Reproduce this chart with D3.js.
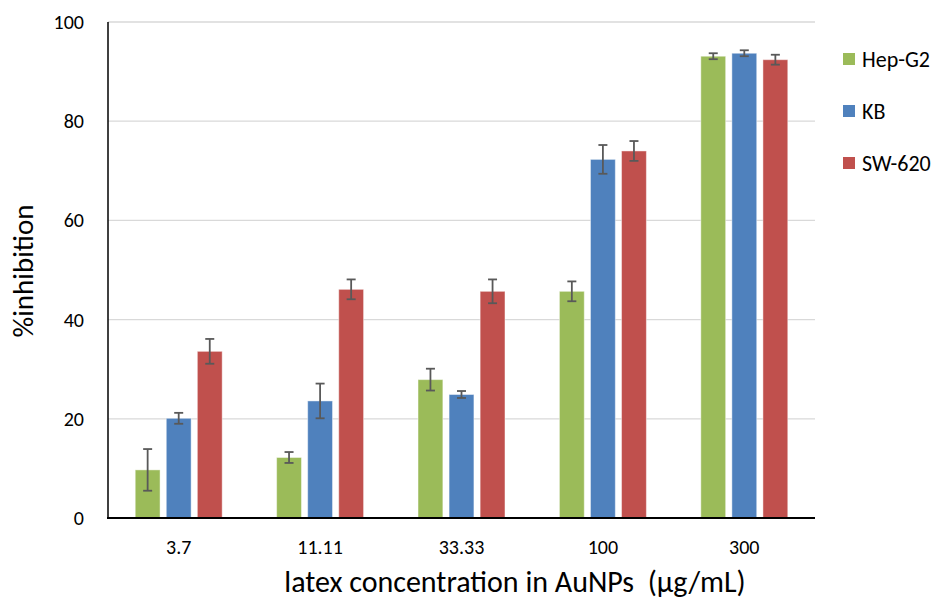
<!DOCTYPE html>
<html>
<head>
<meta charset="utf-8">
<script src="https://cdn.jsdelivr.net/npm/d3@7"></script>
<style>
  body { margin: 0; background: #fff; }
  text { font-family: Carlito, Lato, "Open Sans", sans-serif; fill: #000; }
</style>
</head>
<body>
<svg id="chart" width="939" height="600"></svg>
<script>
// concentrations (x categories)
var concentrations = ["3.7", "11.11", "33.33", "100", "300"];
var cellLines = ["Hep-G2", "KB", "SW-620"];
var colors = ["#9BBB59", "#4F81BD", "#C0504D"];

// mean %inhibition per cell line, one value per concentration
var hepG2 = [9.7, 12.2, 27.9, 45.7, 93.1];
var kb    = [20.1, 23.6, 24.9, 72.3, 93.7];
var sw620 = [33.6, 46.1, 45.7, 74.0, 92.4];

// error bar half-widths
var hepG2Err = [4.2, 1.1, 2.2, 2.0, 0.6];
var kbErr    = [1.1, 3.5, 0.7, 2.9, 0.6];
var sw620Err = [2.5, 2.0, 2.4, 2.0, 1.0];

var yTicks = [0, 20, 40, 60, 80, 100];

var means = [hepG2, kb, sw620], errs = [hepG2Err, kbErr, sw620Err];

var svg = d3.select("#chart");
var plotL = 108, plotR = 815, plotT = 22, plotB = 518;

var x0 = d3.scaleBand().domain(concentrations).range([plotL, plotR]).paddingInner(0.385).paddingOuter(0.1925);
var x1 = d3.scaleBand().domain(cellLines).range([0, x0.bandwidth()]).paddingInner(0.2);
var y = d3.scaleLinear().domain([0, 100]).range([plotB, plotT]);

// gridlines
svg.append("g").selectAll("line")
  .data(yTicks.filter(function(d){ return d > 0; }))
  .enter().append("line")
  .attr("x1", plotL).attr("x2", plotR)
  .attr("y1", y).attr("y2", y)
  .attr("stroke", "#d9d9d9").attr("stroke-width", 1.3);

// y tick labels
svg.append("g").selectAll("text")
  .data(yTicks)
  .enter().append("text")
  .attr("x", 84).attr("y", y).attr("dy", "0.35em")
  .attr("text-anchor", "end")
  .style("font-size", "20px")
  .text(function(d){ return d; });

// bars
var groups = svg.append("g").selectAll("g")
  .data(concentrations)
  .enter().append("g")
  .attr("transform", function(d){ return "translate(" + x0(d) + ",0)"; });

groups.each(function(c, ci) {
  var g = d3.select(this);
  cellLines.forEach(function(s, si) {
    var v = means[si][ci], e = errs[si][ci];
    var bx = x1(s), bw = x1.bandwidth(), cx = bx + bw / 2;
    g.append("rect")
      .attr("x", bx).attr("y", y(v))
      .attr("width", bw).attr("height", y(0) - y(v))
      .attr("fill", colors[si])
      .attr("stroke", "rgba(255,255,255,0.45)").attr("stroke-width", 1);
    var eb = g.append("g").attr("stroke", "#595959").attr("stroke-width", 1.8);
    eb.append("line").attr("x1", cx).attr("x2", cx).attr("y1", y(v + e)).attr("y2", y(v - e));
    eb.append("line").attr("x1", cx - 4.5).attr("x2", cx + 4.5).attr("y1", y(v + e)).attr("y2", y(v + e));
    eb.append("line").attr("x1", cx - 4.5).attr("x2", cx + 4.5).attr("y1", y(v - e)).attr("y2", y(v - e));
  });
});

// axes lines
svg.append("line").attr("x1", plotL).attr("x2", plotL).attr("y1", plotT).attr("y2", plotB)
  .attr("stroke", "#000").attr("stroke-width", 1.5);
svg.append("line").attr("x1", plotL - 1).attr("x2", plotR).attr("y1", plotB).attr("y2", plotB)
  .attr("stroke", "#000").attr("stroke-width", 1.8);

// x tick labels
svg.append("g").selectAll("text")
  .data(concentrations)
  .enter().append("text")
  .attr("x", function(d){ return x0(d) + x0.bandwidth() / 2; })
  .attr("y", 554)
  .attr("text-anchor", "middle")
  .style("font-size", "20px")
  .text(function(d){ return d; });

// axis titles
svg.append("text")
  .attr("x", 515).attr("y", 592)
  .attr("text-anchor", "middle")
  .style("font-size", "30px")
  .text("latex concentration in AuNPs\u00a0\u00a0(\u00b5g/mL)");

svg.append("text")
  .attr("transform", "translate(33,271) rotate(-90)")
  .attr("text-anchor", "middle")
  .style("font-size", "29px")
  .text("%inhibition");

// legend
var legend = svg.append("g").selectAll("g.key")
  .data(cellLines)
  .enter().append("g")
  .attr("class", "key")
  .attr("transform", function(d, i){ return "translate(843," + (59 + i * 52) + ")"; });
legend.append("rect")
  .attr("x", 0).attr("y", -6).attr("width", 12).attr("height", 12)
  .style("fill", function(d, i){ return colors[i]; });
legend.append("text")
  .attr("x", 19).attr("dy", "0.35em")
  .style("font-size", "22px")
  .text(function(d){ return d; });
</script>
</body>
</html>
